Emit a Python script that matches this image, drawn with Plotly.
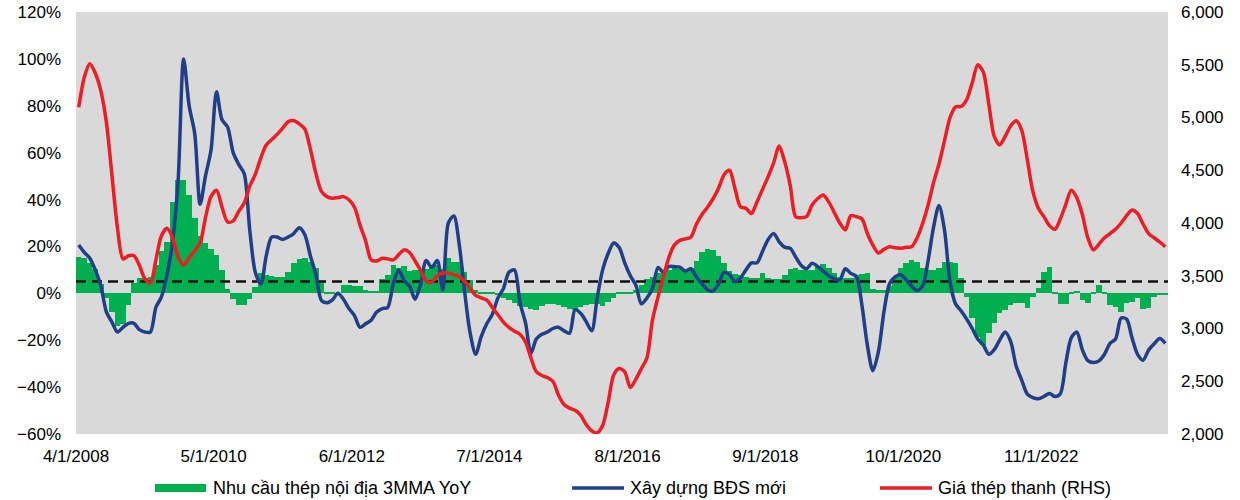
import pandas as pd
import plotly.graph_objects as go

# Monthly series, April 2008 onward
demand_yoy = [  # Nhu cầu thép nội địa 3MMA YoY (%)
    15.6, 15, 13, 10.5, 4, -2, -8, -14, -13, -5,
    4.5, 6.4, 6.4, 7, 12, 18, 22, 39, 48.5, 48.5,
    42, 32, 24.5, 21.3, 19, 16.3, 10, 1.7, -2.6, -5,
    -5, -2.6, 2.6, 8.5, 8, 7.5, 7.1, 6.8, 9.2, 12.8,
    14.5, 15.1, 13.4, 10.7, 5, 0.5, 0.3, -0.5, 3.5, 3.5,
    3, 3, 1.5, 1, 1, 6, 8, 12, 11, 11.5,
    9.5, 10, 10, 10.5, 11.5, 12, 10.5, 15, 13.5, 13.5,
    9, 5.5, 1.4, 0.3, 0.3, 0.3, -0.5, -2, -3, -4,
    -5.5, -6, -6.5, -7, -5.5, -4.5, -4.5, -5, -6, -6.5,
    -7, -6, -5, -4.5, -4.5, -5.5, -3.5, -2, 0.3, 0.3,
    0.5, 1.5, 3.5, 6, 7, 8.5, 9, 10, 11.4, 10.5,
    10, 11, 14, 17.5, 19, 18.5, 16, 13, 9.5, 8.2,
    8, 7, 6.5, 6.5, 8.5, 6.5, 6, 6, 8, 10.5,
    10.7, 10, 10, 10, 11.4, 12.6, 11, 8.5, 7, 6.5,
    6.5, 8, 8.2, 8.5, 2, 1.4, 1.4, 3, 7, 11,
    13, 14.2, 13.5, 11, 10, 10, 11, 13.5, 13.5, 12.8,
    6.4, -1.4, -10.7, -18.5, -22, -17, -12.8, -8.5, -7, -5,
    -4.3, -4.3, -6.4, -1.4, 2.1, 9, 11.4, 0.3, -4.7, -4.7,
    0.5, 1, -2.8, -4.3, 0.3, 3.5, 0.2, -5, -5.7, -7.8,
    -4.3, -3.6, -2.1, -6.7, -6.4, -1.4, -0.3, -0.3,
]

new_construction = [  # Xây dựng BĐS mới (%)
    20.6, 17.5, 15, 10, 3, -8, -12.3, -16.5, -14.5, -12.8,
    -12.8, -15.5, -16.5, -16.5, -6, -1.5, 8, 22, 48, 100,
    80, 68, 38, 50, 61, 86, 74, 71, 60, 55,
    51, 27, 9, 4, 16, 24, 24, 23, 24, 25.5,
    28, 25, 16, 8, -3, -4, -2.8, 0, -2.5, -6.5,
    -9.5, -14.5, -13, -11.5, -8, -6.5, -6, 4.3, 10, 5.5,
    3, -2.5, 4, 14, 11, 14, 1.5, 30, 33, 20,
    0, -17, -26, -18.5, -13, -9, -2, 2, 9, 10,
    -4, -12.8, -25.6, -19.5, -17.5, -16.5, -15, -14.5, -16, -17,
    -7, -8.5, -12, -16, -2, 10, 17, 21.5, 19.5, 13,
    7.5, 3.5, -4.5, -2, 2, 11, 9, 11.4, 11.4, 11.2,
    9.5, 10.5, 7, 4, 1.5, 1, 4, 9, 8, 5,
    6.5, 10, 13, 13, 18, 23, 25.5, 22, 19.7, 19.2,
    15.5, 12, 10.5, 12.8, 11.5, 9.5, 7.5, 6.2, 5.7, 10.5,
    8.5, 7.2, -5, -22, -33, -25, -8, 4, 7, 8,
    5.8, 3, 1.2, 3.3, 14, 28, 37.5, 27, 5, -4.5,
    -7.5, -11, -15, -19.5, -22, -26, -24, -20, -16.5, -20.5,
    -31, -37, -43, -44.5, -45, -44, -42.7, -44, -42.8, -30,
    -19, -16.5, -24, -28.7, -29.5, -28.8, -26, -21.3, -19.5, -10.5,
    -11, -19, -26, -28.5, -24.2, -21.5, -19.3, -21.3,
]

rebar_price = [  # Giá thép thanh (RHS)
    5097, 5380, 5510, 5420, 5250, 4950, 4450, 3950, 3660, 3690,
    3690, 3600, 3470, 3430, 3650, 3880, 3950, 3860, 3680, 3600,
    3670, 3740, 3810, 4050, 4250, 4310, 4150, 4010, 4020, 4110,
    4190, 4350, 4460, 4620, 4740, 4790, 4840, 4900, 4960, 4970,
    4940, 4890, 4700, 4470, 4300, 4250, 4235, 4240, 4250, 4220,
    4150, 3980, 3830, 3650, 3640, 3665, 3660, 3650, 3700, 3745,
    3720, 3640, 3550, 3450, 3440, 3500, 3525, 3525, 3510, 3490,
    3445, 3380, 3315, 3290, 3270, 3200, 3130, 3060, 3010, 2975,
    2945, 2870, 2720, 2590, 2555, 2535, 2500, 2370, 2280, 2245,
    2225, 2180, 2090, 2030, 2010, 2080, 2300, 2560, 2620, 2590,
    2440, 2520, 2620, 2720, 3080, 3300, 3490, 3670, 3790, 3835,
    3850, 3865, 3990, 4080, 4150, 4230, 4330, 4460, 4500, 4330,
    4155, 4139, 4090, 4200, 4320, 4440, 4570, 4730, 4580, 4350,
    4060, 4050, 4060, 4170, 4230, 4265, 4200, 4100, 4000, 3935,
    4070, 4060, 4040, 3900, 3790, 3715, 3750, 3775, 3765, 3760,
    3770, 3775, 3860, 4000, 4170, 4380, 4560, 4780, 5000, 5100,
    5105, 5170, 5330, 5500, 5430, 5120, 4820, 4740, 4820, 4920,
    4970, 4880, 4600, 4300, 4140, 4060, 3975, 3940, 4040, 4175,
    4310, 4240, 4080, 3860, 3745, 3800, 3860, 3900, 3940, 4000,
    4070, 4123, 4090, 3990, 3900, 3860, 3820, 3775,
]

THRESHOLD = 5  # % reference level

tick_dates = ["2008-04-01", "2010-05-01", "2012-06-01", "2014-07-01",
              "2016-08-01", "2018-09-01", "2020-10-01", "2022-11-01"]
tick_labels = ["4/1/2008", "5/1/2010", "6/1/2012", "7/1/2014",
               "8/1/2016", "9/1/2018", "10/1/2020", "11/1/2022"]

series_names = ["Nhu cầu thép nội địa 3MMA YoY", "Xây dựng BĐS mới", "Giá thép thanh (RHS)"]

GREEN = "#00b050"
BLUE = "#203f88"
RED = "#ee1d24"
FONT = "Liberation Sans, Arial, sans-serif"

# month buckets: each value sits in the middle of its month
n = len(demand_yoy)
starts = pd.date_range("2008-04-01", periods=n + 1, freq="MS")
mid = starts[:-1] + (starts[1:] - starts[:-1]) / 2
widths = [(b - a).total_seconds() * 1000 for a, b in zip(starts[:-1], starts[1:])]

fig = go.Figure()
fig.add_trace(go.Bar(
    x=mid, y=demand_yoy, width=widths, name=series_names[0],
    marker=dict(color=GREEN, line=dict(width=0)), showlegend=False,
))
fig.add_trace(go.Scatter(
    x=[starts[0], starts[-1]], y=[THRESHOLD, THRESHOLD], mode="lines",
    line=dict(color="#111111", width=2.5, dash="10px,6px"), showlegend=False,
    hoverinfo="skip",
))
fig.add_trace(go.Scatter(
    x=mid, y=new_construction, name=series_names[1], mode="lines",
    line=dict(color=BLUE, width=3.5, shape="spline", smoothing=0.8), showlegend=False,
))
fig.add_trace(go.Scatter(
    x=mid, y=rebar_price, name=series_names[2], mode="lines", yaxis="y2",
    line=dict(color=RED, width=3.5, shape="spline", smoothing=0.8), showlegend=False,
))

# legend drawn below the plot area
L, R, T, B = 76, 72, 12, 66
W, H = 1240, 500
pw, ph = W - L - R, H - T - B


def px(xp):
    return (xp - L) / pw


def py(yp):
    return (H - B - yp) / ph


legend_y = 488
shapes = [
    dict(type="rect", xref="paper", yref="paper", x0=px(155), x1=px(206),
         y0=py(legend_y - 4), y1=py(legend_y + 4), fillcolor=GREEN, line=dict(width=0)),
    dict(type="line", xref="paper", yref="paper", x0=px(572), x1=px(624),
         y0=py(legend_y), y1=py(legend_y), line=dict(color=BLUE, width=3.5)),
    dict(type="line", xref="paper", yref="paper", x0=px(880), x1=px(932),
         y0=py(legend_y), y1=py(legend_y), line=dict(color=RED, width=3.5)),
]
annotations = [
    dict(xref="paper", yref="paper", x=px(xt), y=py(legend_y), text=name,
         showarrow=False, xanchor="left", yanchor="middle",
         font=dict(family=FONT, size=18, color="#000000"))
    for xt, name in zip([211, 628, 936], series_names)
]

axis_common = dict(showgrid=False, zeroline=False, showline=False, ticks="",
                   automargin=False, tickfont=dict(size=17))

fig.update_layout(
    width=W, height=H,
    margin=dict(l=L, r=R, t=T, b=B, pad=0, autoexpand=False),
    paper_bgcolor="#ffffff", plot_bgcolor="#d9d9d9",
    bargap=0,
    font=dict(family=FONT, size=16, color="#000000"),
    shapes=shapes, annotations=annotations,
    xaxis=dict(
        type="date", range=[starts[0], starts[-1]],
        tickvals=tick_dates, ticktext=tick_labels,
        ticklabelstandoff=10, **axis_common,
    ),
    yaxis=dict(
        range=[-60, 120], dtick=20, tick0=0, ticksuffix="%",
        ticklabelstandoff=14, **axis_common,
    ),
    yaxis2=dict(
        range=[2000, 6000], dtick=500, tick0=2000, tickformat=",.0f",
        overlaying="y", side="right",
        ticklabelstandoff=12, **axis_common,
    ),
    showlegend=False,
)

fig.write_html("out.html")
